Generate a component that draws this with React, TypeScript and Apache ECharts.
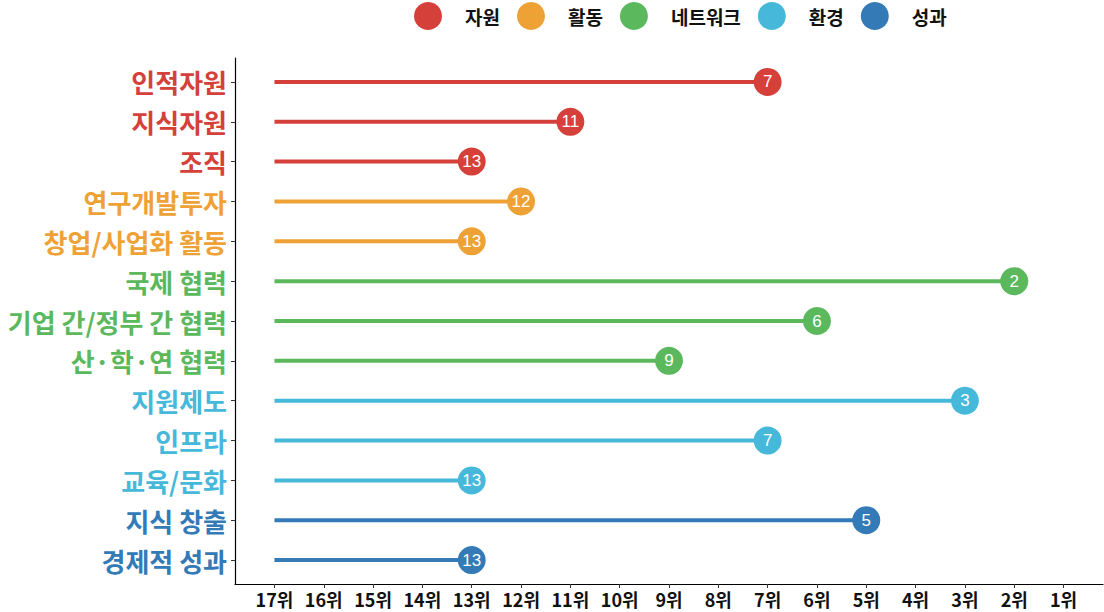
import React, { useEffect, useRef } from "react";
import * as echarts from "echarts";

const groups = ["자원", "활동", "네트워크", "환경", "성과"];
const groupColors = ["#d6403b", "#eea236", "#5cb85c", "#46b8da", "#337ab7"];
const categories = [
  "인적자원",
  "지식자원",
  "조직",
  "연구개발투자",
  "창업/사업화 활동",
  "국제 협력",
  "기업 간/정부 간 협력",
  "산·학·연 협력",
  "지원제도",
  "인프라",
  "교육/문화",
  "지식 창출",
  "경제적 성과",
];
const categoryGroup = [0, 0, 0, 1, 1, 2, 2, 2, 3, 3, 3, 4, 4];
const ranks = [7, 11, 13, 12, 13, 2, 6, 9, 3, 7, 13, 5, 13];
const rankTicks = [17, 16, 15, 14, 13, 12, 11, 10, 9, 8, 7, 6, 5, 4, 3, 2, 1];
const baseRank = 17;

const FONT = "'Noto Sans CJK KR', 'Noto Sans', sans-serif";

export default function App() {
  const ref = useRef<HTMLDivElement>(null);
  useEffect(() => {
    if (!ref.current) return;
    const chart = echarts.init(ref.current, null, { renderer: "svg" });
    const rich: any = {};
    groups.forEach((_, gi) => {
      rich["g" + gi] = {
        color: groupColors[gi],
        fontSize: 26,
        fontWeight: "bold",
        fontFamily: FONT,
      };
    });
    const lineData = categories.map((_, i) => [ranks[i], i, categoryGroup[i]]);
    const scatterSeries = groups.map((g, gi) => ({
      type: "scatter",
      name: g,
      symbol: "circle",
      symbolSize: 28,
      z: 5,
      itemStyle: { color: groupColors[gi], opacity: 1 },
      label: {
        show: true,
        position: "inside",
        color: "#fff",
        fontSize: 17,
        fontFamily: "'Liberation Sans', Arial, sans-serif",
        formatter: (p: any) => String(p.value[0]),
      },
      data: categories
        .map((_, i) => (categoryGroup[i] === gi ? [ranks[i], i] : null))
        .filter((d) => d !== null),
    }));
    chart.setOption({
      animation: false,
      backgroundColor: "#ffffff",
      textStyle: { fontFamily: FONT },
      legend: {
        data: groups,
        left: 414,
        top: 2,
        padding: 0,
        icon: "circle",
        itemWidth: 28,
        itemHeight: 28,
        itemGap: 17,
        textStyle: {
          fontSize: 19,
          fontWeight: "bold",
          color: "#111",
          fontFamily: FONT,
          padding: [0, 0, 0, 18],
        },
      },
      grid: { left: 235, top: 58, width: 868, height: 526, containLabel: false },
      xAxis: {
        type: "value",
        inverse: true,
        min: 0.2,
        max: 17.8,
        splitLine: { show: false },
        axisLine: { show: true, onZero: false, lineStyle: { color: "#000", width: 1.2 } },
        axisTick: {
          show: true,
          length: 4,
          customValues: rankTicks,
          lineStyle: { color: "#333" },
        },
        axisLabel: {
          customValues: rankTicks,
          formatter: (v: number) => v + "위",
          color: "#111",
          fontSize: 18,
          fontWeight: "bold",
          fontFamily: FONT,
          margin: 6,
        },
      },
      yAxis: {
        type: "value",
        inverse: true,
        min: -0.6,
        max: 12.6,
        splitLine: { show: false },
        axisLine: { show: true, onZero: false, lineStyle: { color: "#000", width: 1.2 } },
        axisTick: {
          show: true,
          length: 4,
          customValues: categories.map((_, i) => i),
          lineStyle: { color: "#333" },
        },
        axisLabel: {
          customValues: categories.map((_, i) => i),
          margin: 8,
          formatter: (v: number) => {
            const i = Math.round(v);
            return `{g${categoryGroup[i]}|${categories[i]}}`;
          },
          rich,
        },
      },
      series: [
        {
          type: "custom",
          name: "lines",
          z: 2,
          silent: true,
          encode: { x: 0, y: 1 },
          data: lineData,
          renderItem: (params: any, api: any) => {
            const y = api.value(1);
            const start = api.coord([baseRank, y]);
            const end = api.coord([api.value(0), y]);
            const gi = api.value(2);
            return {
              type: "line",
              shape: { x1: start[0], y1: start[1], x2: end[0], y2: end[1] },
              style: { stroke: groupColors[gi], lineWidth: 4 },
            };
          },
        },
        ...scatterSeries,
      ],
    });
    return () => chart.dispose();
  }, []);
  return (
    <div
      ref={ref}
      style={{ position: "fixed", left: 0, top: 0, width: 1104, height: 612 }}
    />
  );
}
